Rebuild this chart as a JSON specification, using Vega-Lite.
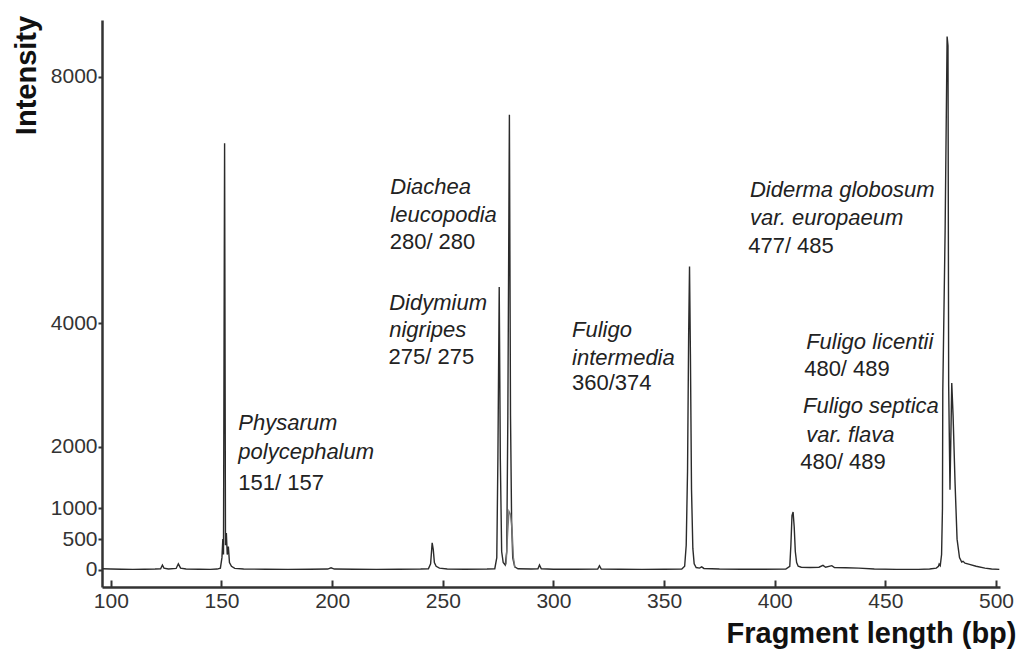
{
  "$schema": "https://vega.github.io/schema/vega-lite/v6.json",
  "width": 898,
  "height": 567,
  "autosize": "none",
  "padding": {"left": 102, "top": 20, "right": 21, "bottom": 64},
  "background": "white",
  "config": {"view": {"stroke": null}, "font": "Liberation Sans"},
  "datasets": {
    "trace": [
      {"bp":96.2,"intensity":20,"trace":"main"},{"bp":100,"intensity":15,"trace":"main"},{"bp":105,"intensity":12,"trace":"main"},{"bp":110,"intensity":10,"trace":"main"},{"bp":115,"intensity":12,"trace":"main"},{"bp":120,"intensity":15,"trace":"main"},{"bp":122.5,"intensity":20,"trace":"main"},{"bp":123.3,"intensity":80,"trace":"main"},{"bp":124,"intensity":30,"trace":"main"},{"bp":126,"intensity":15,"trace":"main"},{"bp":129.5,"intensity":25,"trace":"main"},{"bp":130.5,"intensity":100,"trace":"main"},{"bp":131.5,"intensity":30,"trace":"main"},{"bp":134,"intensity":15,"trace":"main"},{"bp":140,"intensity":12,"trace":"main"},{"bp":145,"intensity":10,"trace":"main"},{"bp":148,"intensity":15,"trace":"main"},{"bp":149.5,"intensity":30,"trace":"main"},{"bp":150.2,"intensity":200,"trace":"main"},{"bp":150.6,"intensity":500,"trace":"main"},{"bp":150.9,"intensity":250,"trace":"main"},{"bp":151.4,"intensity":6920,"trace":"main"},{"bp":151.8,"intensity":400,"trace":"main"},{"bp":152.2,"intensity":600,"trace":"main"},{"bp":152.6,"intensity":250,"trace":"main"},{"bp":153.1,"intensity":380,"trace":"main"},{"bp":153.6,"intensity":120,"trace":"main"},{"bp":154.5,"intensity":60,"trace":"main"},{"bp":156,"intensity":25,"trace":"main"},{"bp":160,"intensity":15,"trace":"main"},{"bp":170,"intensity":12,"trace":"main"},{"bp":180,"intensity":10,"trace":"main"},{"bp":190,"intensity":12,"trace":"main"},{"bp":198,"intensity":15,"trace":"main"},{"bp":199.5,"intensity":35,"trace":"main"},{"bp":201,"intensity":15,"trace":"main"},{"bp":210,"intensity":12,"trace":"main"},{"bp":220,"intensity":10,"trace":"main"},{"bp":230,"intensity":12,"trace":"main"},{"bp":240,"intensity":15,"trace":"main"},{"bp":243.5,"intensity":20,"trace":"main"},{"bp":244.5,"intensity":100,"trace":"main"},{"bp":245.2,"intensity":440,"trace":"main"},{"bp":245.7,"intensity":330,"trace":"main"},{"bp":246.2,"intensity":120,"trace":"main"},{"bp":247,"intensity":60,"trace":"main"},{"bp":248.5,"intensity":30,"trace":"main"},{"bp":252,"intensity":15,"trace":"main"},{"bp":260,"intensity":12,"trace":"main"},{"bp":270,"intensity":15,"trace":"main"},{"bp":273.5,"intensity":20,"trace":"main"},{"bp":274.4,"intensity":200,"trace":"main"},{"bp":274.9,"intensity":1800,"trace":"main"},{"bp":275.5,"intensity":4590,"trace":"main"},{"bp":276.0,"intensity":1800,"trace":"main"},{"bp":276.6,"intensity":300,"trace":"main"},{"bp":277.3,"intensity":120,"trace":"main"},{"bp":278.2,"intensity":80,"trace":"main"},{"bp":278.9,"intensity":300,"trace":"main"},{"bp":279.4,"intensity":2500,"trace":"main"},{"bp":280.1,"intensity":7380,"trace":"main"},{"bp":280.6,"intensity":2500,"trace":"main"},{"bp":281.1,"intensity":800,"trace":"main"},{"bp":281.6,"intensity":200,"trace":"main"},{"bp":282.5,"intensity":50,"trace":"main"},{"bp":284,"intensity":20,"trace":"main"},{"bp":290,"intensity":15,"trace":"main"},{"bp":293,"intensity":20,"trace":"main"},{"bp":293.7,"intensity":80,"trace":"main"},{"bp":294.5,"intensity":20,"trace":"main"},{"bp":300,"intensity":12,"trace":"main"},{"bp":310,"intensity":12,"trace":"main"},{"bp":320,"intensity":15,"trace":"main"},{"bp":320.8,"intensity":70,"trace":"main"},{"bp":321.6,"intensity":15,"trace":"main"},{"bp":330,"intensity":12,"trace":"main"},{"bp":340,"intensity":10,"trace":"main"},{"bp":350,"intensity":12,"trace":"main"},{"bp":358,"intensity":15,"trace":"main"},{"bp":359.3,"intensity":60,"trace":"main"},{"bp":360.0,"intensity":400,"trace":"main"},{"bp":360.6,"intensity":1600,"trace":"main"},{"bp":361.1,"intensity":3800,"trace":"main"},{"bp":361.5,"intensity":4920,"trace":"main"},{"bp":361.9,"intensity":3500,"trace":"main"},{"bp":362.4,"intensity":1300,"trace":"main"},{"bp":363.0,"intensity":350,"trace":"main"},{"bp":363.6,"intensity":100,"trace":"main"},{"bp":364.5,"intensity":40,"trace":"main"},{"bp":366,"intensity":30,"trace":"main"},{"bp":367,"intensity":50,"trace":"main"},{"bp":368,"intensity":25,"trace":"main"},{"bp":375,"intensity":15,"trace":"main"},{"bp":385,"intensity":12,"trace":"main"},{"bp":395,"intensity":12,"trace":"main"},{"bp":405,"intensity":15,"trace":"main"},{"bp":406.8,"intensity":60,"trace":"main"},{"bp":407.3,"intensity":400,"trace":"main"},{"bp":407.8,"intensity":880,"trace":"main"},{"bp":408.3,"intensity":940,"trace":"main"},{"bp":408.8,"intensity":700,"trace":"main"},{"bp":409.3,"intensity":300,"trace":"main"},{"bp":409.9,"intensity":120,"trace":"main"},{"bp":410.6,"intensity":60,"trace":"main"},{"bp":412,"intensity":45,"trace":"main"},{"bp":416,"intensity":40,"trace":"main"},{"bp":420,"intensity":45,"trace":"main"},{"bp":421.8,"intensity":75,"trace":"main"},{"bp":423,"intensity":45,"trace":"main"},{"bp":425.8,"intensity":70,"trace":"main"},{"bp":427,"intensity":40,"trace":"main"},{"bp":432,"intensity":35,"trace":"main"},{"bp":438,"intensity":30,"trace":"main"},{"bp":445,"intensity":15,"trace":"main"},{"bp":455,"intensity":10,"trace":"main"},{"bp":465,"intensity":10,"trace":"main"},{"bp":470,"intensity":15,"trace":"main"},{"bp":473,"intensity":30,"trace":"main"},{"bp":474.0,"intensity":60,"trace":"main"},{"bp":474.3,"intensity":95,"trace":"main"},{"bp":474.8,"intensity":70,"trace":"main"},{"bp":475.4,"intensity":250,"trace":"main"},{"bp":475.8,"intensity":1000,"trace":"main"},{"bp":475.95,"intensity":2900,"trace":"main"},{"bp":477.0,"intensity":5500,"trace":"main"},{"bp":477.9,"intensity":8650,"trace":"main"},{"bp":478.3,"intensity":8500,"trace":"main"},{"bp":478.6,"intensity":3000,"trace":"main"},{"bp":479.2,"intensity":1300,"trace":"main"},{"bp":480.0,"intensity":3030,"trace":"main"},{"bp":480.6,"intensity":2500,"trace":"main"},{"bp":481.5,"intensity":1400,"trace":"main"},{"bp":482.4,"intensity":500,"trace":"main"},{"bp":483.5,"intensity":200,"trace":"main"},{"bp":484.5,"intensity":130,"trace":"main"},{"bp":485.1,"intensity":140,"trace":"main"},{"bp":486,"intensity":110,"trace":"main"},{"bp":488,"intensity":90,"trace":"main"},{"bp":491,"intensity":60,"trace":"main"},{"bp":495,"intensity":30,"trace":"main"},{"bp":498,"intensity":15,"trace":"main"},{"bp":501.5,"intensity":10,"trace":"main"},
      {"bp":278.6,"intensity":90,"trace":"second"},{"bp":279.3,"intensity":600,"trace":"second"},{"bp":279.9,"intensity":950,"trace":"second"},{"bp":280.6,"intensity":900,"trace":"second"},{"bp":281.3,"intensity":650,"trace":"second"},{"bp":281.9,"intensity":200,"trace":"second"},{"bp":282.6,"intensity":40,"trace":"second"}
    ],
    "labels": [
      {"bp":157.6,"intensity":2384,"text":"Physarum","style":"italic"},
      {"bp":157.6,"intensity":1913,"text":"polycephalum","style":"italic"},
      {"bp":157.6,"intensity":1411,"text":"151/ 157","style":"normal"},
      {"bp":226.3,"intensity":6210,"text":"Diachea","style":"italic"},
      {"bp":226.3,"intensity":5756,"text":"leucopodia","style":"italic"},
      {"bp":226.0,"intensity":5319,"text":"280/ 280","style":"normal"},
      {"bp":225.8,"intensity":4330,"text":"Didymium","style":"italic"},
      {"bp":225.8,"intensity":3892,"text":"nigripes","style":"italic"},
      {"bp":225.5,"intensity":3454,"text":"275/ 275","style":"normal"},
      {"bp":308.4,"intensity":3892,"text":"Fuligo","style":"italic"},
      {"bp":308.4,"intensity":3438,"text":"intermedia","style":"italic"},
      {"bp":308.4,"intensity":3032,"text":"360/374","style":"normal"},
      {"bp":388.8,"intensity":6162,"text":"Diderma globosum","style":"italic"},
      {"bp":388.8,"intensity":5708,"text":"var. europaeum","style":"italic"},
      {"bp":388.0,"intensity":5254,"text":"477/ 485","style":"normal"},
      {"bp":414.2,"intensity":3697,"text":"Fuligo licentii","style":"italic"},
      {"bp":413.3,"intensity":3259,"text":"480/ 489","style":"normal"},
      {"bp":412.8,"intensity":2659,"text":"Fuligo septica","style":"italic"},
      {"bp":414.2,"intensity":2189,"text":"var. flava","style":"italic"},
      {"bp":411.5,"intensity":1751,"text":"480/ 489","style":"normal"}
    ]
  },
  "layer": [
    {
      "data": {"name": "trace"},
      "mark": {"type": "line", "strokeWidth": 1.4, "clip": true},
      "encoding": {
        "x": {"field": "bp", "type": "quantitative",
          "scale": {"domain": [96.0, 501.8], "nice": false, "zero": false},
          "axis": {"values": [100,150,200,250,300,350,400,450,500], "format": "d", "grid": false,
            "domainColor": "#333", "domainWidth": 2.5, "tickColor": "#333", "tickWidth": 2, "tickSize": -7,
            "labelFontSize": 21, "labelColor": "#333", "labelPadding": 10, "labelFont": "Liberation Sans",
            "title": "Fragment length (bp)", "titleFontSize": 29, "titleFontWeight": "bold", "titleColor": "#111",
            "titleFont": "Liberation Sans", "titleAlign": "right", "titleX": 914, "titleY": 55, "titleBaseline": "alphabetic"}},
        "y": {"field": "intensity", "type": "quantitative",
          "scale": {"domain": [-276, 8918], "nice": false, "zero": false},
          "axis": {"values": [0,500,1000,2000,4000,8000], "format": "d", "grid": false,
            "domainColor": "#333", "domainWidth": 2.5, "tickColor": "#333", "tickWidth": 2, "tickSize": 4,
            "labelFontSize": 21, "labelColor": "#333", "labelPadding": 1, "labelFont": "Liberation Sans",
            "title": "Intensity", "titleFontSize": 29, "titleFontWeight": "bold", "titleColor": "#111",
            "titleFont": "Liberation Sans", "titleAngle": -90, "titleAlign": "center", "titleX": -67, "titleY": 55, "titleBaseline": "alphabetic"}},
        "detail": {"field": "trace"},
        "color": {"field": "trace", "type": "nominal", "scale": {"domain": ["main","second"], "range": ["#2b2b2b","#777777"]}, "legend": null}
      }
    },
    {
      "data": {"name": "labels"},
      "transform": [{"filter": "datum.style === 'italic'"}],
      "mark": {"type": "text", "align": "left", "baseline": "middle", "fontSize": 22, "fontStyle": "italic", "font": "Liberation Sans", "color": "#222"},
      "encoding": {
        "x": {"field": "bp", "type": "quantitative"},
        "y": {"field": "intensity", "type": "quantitative"},
        "text": {"field": "text"}
      }
    },
    {
      "data": {"name": "labels"},
      "transform": [{"filter": "datum.style === 'normal'"}],
      "mark": {"type": "text", "align": "left", "baseline": "middle", "fontSize": 22, "font": "Liberation Sans", "color": "#222"},
      "encoding": {
        "x": {"field": "bp", "type": "quantitative"},
        "y": {"field": "intensity", "type": "quantitative"},
        "text": {"field": "text"}
      }
    }
  ]
}
